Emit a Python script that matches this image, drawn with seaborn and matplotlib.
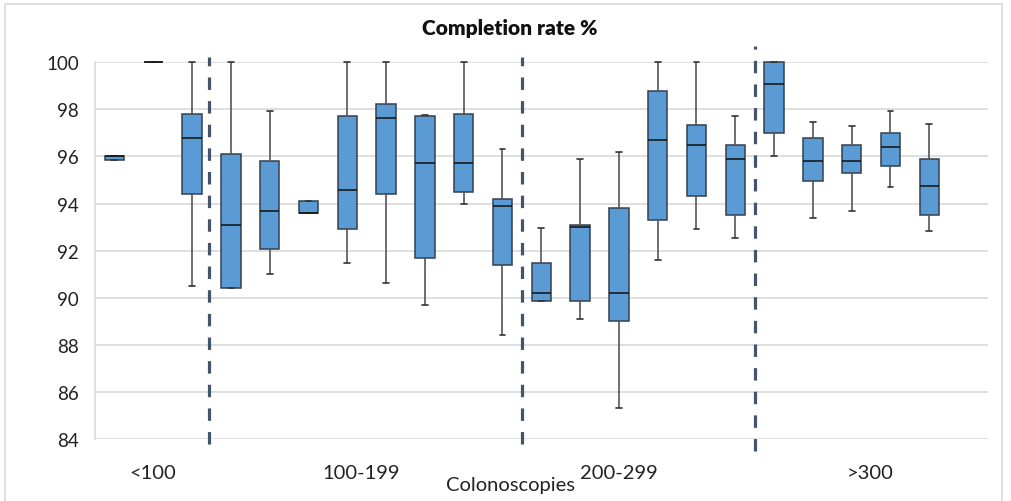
import numpy as np
import pandas as pd
import matplotlib
matplotlib.use("Agg")
import matplotlib.pyplot as plt
import matplotlib.patches as mpatches
import matplotlib.transforms as mtransforms
import seaborn as sns

# ---- data (five-number summaries) ----
groups = ["<100", "100-199", "200-299", ">300"]
group_sizes = [3, 8, 6, 5]
mins = [95.85, 100.0, 90.49, 90.41, 91.00, 93.60, 91.48, 90.62, 89.71, 94.00, 88.42,
        89.88, 89.10, 85.30, 91.61, 92.90, 92.52,
        96.02, 93.38, 93.69, 94.72, 92.83]
q1s = [95.85, 100.0, 94.42, 90.41, 92.09, 93.60, 92.91, 94.42, 91.69, 94.49, 91.40,
       89.88, 89.88, 89.02, 93.29, 94.30, 93.52,
       97.01, 94.97, 95.29, 95.59, 93.52]
meds = [96.00, 100.0, 96.80, 93.08, 93.68, 93.60, 94.59, 97.62, 95.73, 95.73, 93.90,
        90.19, 93.00, 90.19, 96.71, 96.49, 95.88,
        99.09, 95.80, 95.80, 96.42, 94.74]
q3s = [96.00, 100.0, 97.79, 96.10, 95.80, 94.10, 97.71, 98.22, 97.71, 97.79, 94.20,
       91.47, 93.08, 93.80, 98.77, 97.35, 96.49,
       100.0, 96.79, 96.49, 97.00, 95.88]
maxs = [96.00, 100.0, 100.0, 100.0, 97.92, 94.10, 100.0, 100.0, 97.78, 100.0, 96.33,
        92.98, 95.90, 96.18, 100.0, 100.0, 97.71,
        100.0, 97.48, 97.31, 97.92, 97.39]
y_ticks = [84, 86, 88, 90, 92, 94, 96, 98, 100]
title = "Completion rate %"
x_title = "Colonoscopies"

# ---- build long data: 5 points per box reproduce the summary exactly ----
n_boxes = len(mins)
n_slots = n_boxes + 1  # an empty slot at the right end
rows = []
for i in range(n_boxes):
    for v in (mins[i], q1s[i], meds[i], q3s[i], maxs[i]):
        rows.append({"slot": i, "value": v})
df = pd.DataFrame(rows)

sns.set_theme(style="white")
plt.rcParams["font.family"] = ["Lato", "DejaVu Sans"]

fig = plt.figure(figsize=(10.11, 5.02), dpi=100)
ax = fig.add_axes([95 / 1011, 1 - 440 / 502, 892.5 / 1011, 376.7 / 502])

grid_c = "#D9D9D9"
sns.boxplot(
    data=df, x="slot", y="value", order=list(range(n_slots)), ax=ax,
    color="#5B9BD5", saturation=1, width=0.5, whis=(0, 100),
    linecolor="#34404D", linewidth=1.1, showfliers=False,
    medianprops={"color": "#151515", "linewidth": 1.15},
    whiskerprops={"color": "#555555", "linewidth": 1.2},
    capprops={"color": "#333333", "linewidth": 1.2},
    capwidths=0.15,
)
for art in ax.get_children():
    try:
        art.set_clip_on(False)
    except Exception:
        pass

ax.set_ylim(84, 100)
ax.set_xlim(-0.5, n_slots - 0.5)
ax.set_yticks(y_ticks)
ax.set_yticklabels([str(t) for t in y_ticks])
ax.tick_params(axis="y", length=0, pad=11.5, labelsize=13.5, labelcolor="#222222")
ax.set_xticks([])
ax.set_xlabel("")
ax.set_ylabel("")
ax.yaxis.grid(True, color=grid_c, linewidth=1.2)
ax.set_axisbelow(True)
for s in ["top", "right", "bottom"]:
    ax.spines[s].set_visible(False)
ax.spines["left"].set_color(grid_c)
ax.spines["left"].set_linewidth(1.2)

# group dividers (between groups)
bounds = np.cumsum(group_sizes)[:-1] - 0.5
div_ext = [(-0.013, 1.014), (-0.013, 1.014), (-0.032, 1.043)]
div_shift = [-0.06, 0.0, 0.0]
for b, (lo, hi), sh in zip(bounds, div_ext, div_shift):
    ax.axvline(b + sh, ymin=lo, ymax=hi, color="#44546A", linewidth=2.3,
               linestyle=(0, (3.9, 3.5)), clip_on=False, zorder=5)

# group labels
trans = mtransforms.blended_transform_factory(ax.transData, ax.transAxes)
label_x = [1.0, 6.37, 13.0, 19.47]
for g, lx in zip(groups, label_x):
    ax.text(lx, -0.088, g, transform=trans, ha="center", va="center",
            fontsize=14.5, color="#222222")
ax.text(10.2, -0.12, x_title, transform=trans, ha="center", va="center",
        fontsize=14.5, color="#222222")

fig.text(510 / 1011, 1 - 29 / 502, title, ha="center", va="center",
         fontsize=15, fontweight="heavy", color="#111111")

# outer chart border
fig.patches.append(mpatches.Rectangle(
    (5 / 1011, -0.02), 996.5 / 1011, 1 - 5 / 502 + 0.02, transform=fig.transFigure,
    fill=False, edgecolor=grid_c, linewidth=1.2))

fig.savefig("out.png", dpi=100)
